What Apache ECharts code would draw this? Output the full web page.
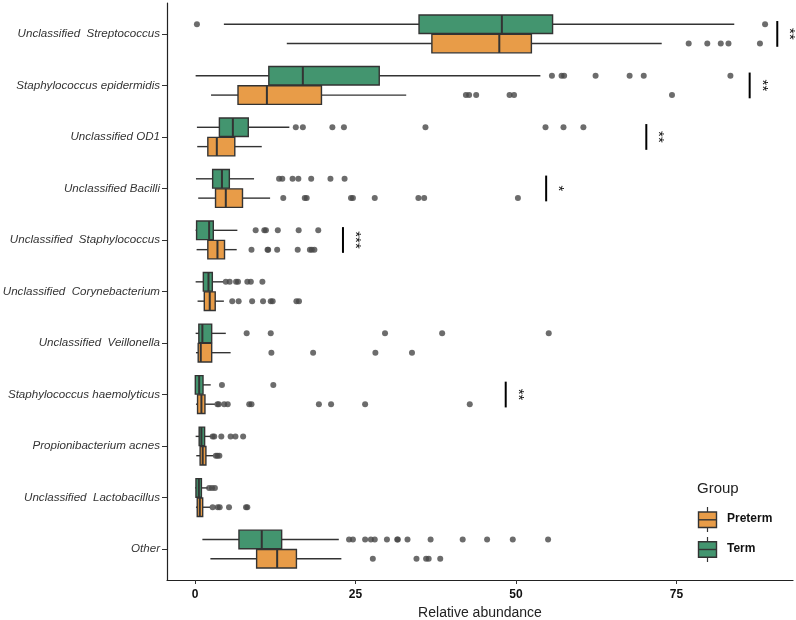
<!DOCTYPE html>
<html>
<head>
<meta charset="utf-8">
<script src="https://cdn.jsdelivr.net/npm/echarts@6/dist/echarts.min.js"></script>
<style>
html, body { margin: 0; padding: 0; background: #fff; }
#box { width: 796px; height: 620px; }
</style>
</head>
<body>
<div id="box"></div>
<script>
var taxa = [
    'Unclassified  Streptococcus',
    'Staphylococcus epidermidis',
    'Unclassified OD1',
    'Unclassified Bacilli',
    'Unclassified  Staphylococcus',
    'Unclassified  Corynebacterium',
    'Unclassified  Veillonella',
    'Staphylococcus haemolyticus',
    'Propionibacterium acnes',
    'Unclassified  Lactobacillus',
    'Other'
];
var xTicks = [0, 25, 50, 75];

// whisker low, q1, median, q3, whisker high
var termStats = [
    [4.5, 34.9, 47.8, 55.7, 84.0],
    [0.1, 11.5, 16.8, 28.7, 53.8],
    [0.3, 3.8, 5.9, 8.3, 14.7],
    [0.15, 2.75, 4.2, 5.35, 9.2],
    [0.1, 0.25, 2.2, 2.85, 6.6],
    [0.1, 1.3, 2.1, 2.7, 4.4],
    [0.1, 0.6, 1.15, 2.6, 4.8],
    [0.0, 0.05, 0.65, 1.25, 2.45],
    [0.1, 0.65, 1.0, 1.5, 2.45],
    [0.0, 0.15, 0.6, 1.0, 2.0],
    [1.15, 6.85, 10.4, 13.5, 22.4]
];
var pretermStats = [
    [14.3, 36.9, 47.4, 52.4, 72.7],
    [2.5, 6.7, 11.2, 19.7, 32.9],
    [0.35, 2.0, 3.4, 6.2, 10.4],
    [0.5, 3.2, 4.8, 7.4, 11.7],
    [0.25, 2.0, 3.5, 4.6, 6.5],
    [0.4, 1.45, 2.3, 3.15, 4.5],
    [0.15, 0.5, 0.9, 2.6, 5.55],
    [0.15, 0.4, 1.0, 1.55, 3.1],
    [0.2, 0.8, 1.2, 1.7, 2.85],
    [0.15, 0.35, 0.75, 1.2, 2.35],
    [2.4, 9.6, 12.8, 15.8, 22.8]
];
var termOutliers = [
    [0.3, 88.8],
    [55.6, 57.1, 57.5, 62.4, 67.7, 69.9, 83.4],
    [15.7, 16.8, 21.4, 23.2, 35.9, 54.6, 57.4, 60.5],
    [13.1, 13.6, 15.2, 16.1, 18.1, 21.1, 23.3],
    [9.45, 10.8, 11.05, 12.9, 16.15, 19.2],
    [4.8, 5.4, 6.4, 6.7, 8.15, 8.7, 10.5],
    [8.05, 11.8, 29.6, 38.5, 55.1],
    [4.2, 12.2],
    [2.75, 3.0, 4.1, 5.55, 6.3, 7.5],
    [2.2, 2.65, 3.1],
    [24.0, 24.6, 26.5, 27.4, 28.0, 29.9, 31.5, 31.6, 33.1, 36.7, 41.7, 45.5, 49.5, 55.0]
];
var pretermOutliers = [
    [76.9, 79.8, 81.9, 83.1, 88.0],
    [42.2, 42.7, 43.8, 49.0, 49.7, 74.3],
    [],
    [13.75, 17.1, 17.4, 24.3, 24.6, 28.0, 34.8, 35.7, 50.3],
    [8.8, 11.3, 11.4, 12.8, 16.0, 17.9, 18.2, 18.6],
    [5.8, 6.8, 8.9, 10.6, 11.8, 12.1, 15.8, 16.2],
    [11.9, 18.4, 28.1, 33.8],
    [3.5, 3.7, 4.55, 5.1, 8.45, 8.8, 19.3, 21.2, 26.5, 42.8],
    [3.25, 3.5, 3.8],
    [2.75, 3.55, 3.85, 5.3, 7.95, 8.15],
    [27.7, 34.5, 36.0, 36.4, 38.2]
];
// significance markers
var sigRows = [0, 1, 2, 3, 4, 7];
var sigX = [90.7, 86.4, 70.3, 54.7, 23.05, 48.4];
var sigStars = ['**', '**', '**', '*', '***', '**'];

var OFF = 0.1875;     // dodge offset of each group from the row centre
var BOX_H = 0.36;     // box thickness in row units
var termColor = '#43956f';
var pretermColor = '#e89c48';
var edge = '#333333';
var font = "'Liberation Sans', Arial, sans-serif";

function boxRows(stats) {
    return stats.map(function (s, i) { return [i].concat(s); });
}
function outlierPoints(list, shift) {
    var pts = [];
    list.forEach(function (vals, i) {
        vals.forEach(function (v) { pts.push([v, i + shift]); });
    });
    return pts;
}
function renderBox(shift) {
    return function (params, api) {
        var row = api.value(0) + shift;
        var lo = api.coord([api.value(1), row]);
        var q1 = api.coord([api.value(2), row]);
        var md = api.coord([api.value(3), row]);
        var q3 = api.coord([api.value(4), row]);
        var hi = api.coord([api.value(5), row]);
        var h = api.size([0, BOX_H])[1];
        var y = lo[1];
        var line = { stroke: edge, lineWidth: 1.4 };
        return {
            type: 'group',
            children: [
                { type: 'line', shape: { x1: lo[0], y1: y, x2: q1[0], y2: y }, style: line },
                { type: 'line', shape: { x1: q3[0], y1: y, x2: hi[0], y2: y }, style: line },
                { type: 'rect', shape: { x: q1[0], y: y - h / 2, width: q3[0] - q1[0], height: h },
                  style: { fill: api.visual('color'), stroke: edge, lineWidth: 1.4 } },
                { type: 'line', shape: { x1: md[0], y1: y - h / 2, x2: md[0], y2: y + h / 2 },
                  style: { stroke: edge, lineWidth: 2 } }
            ]
        };
    };
}

var sigData = sigRows.map(function (r, k) { return [sigX[k], r, sigStars[k]]; });
var rowIdx = taxa.map(function (t, i) { return i; });

var myChart = echarts.init(document.getElementById('box'));
myChart.setOption({
    animation: false,
    grid: { left: 167, right: 3, top: 3, bottom: 40, outerBoundsMode: 'none' },
    xAxis: {
        type: 'value',
        min: -4.36,
        max: 93.15,
        splitLine: { show: false },
        axisLine: { show: true, onZero: false, lineStyle: { color: '#222', width: 1.2 } },
        axisTick: { show: true, customValues: xTicks, length: 4, lineStyle: { color: '#333' } },
        axisLabel: { customValues: xTicks, margin: 9, fontSize: 12, fontWeight: 'bold',
                     color: '#111', fontFamily: font },
        name: 'Relative abundance',
        nameLocation: 'middle',
        nameGap: 26,
        nameTextStyle: { fontSize: 14, color: '#222', fontFamily: font }
    },
    yAxis: {
        type: 'value',
        min: -0.6,
        max: 10.6,
        inverse: true,
        splitLine: { show: false },
        axisLine: { show: true, onZero: false, lineStyle: { color: '#222', width: 1.2 } },
        axisTick: { show: true, customValues: rowIdx, length: 5, lineStyle: { color: '#333' } },
        axisLabel: {
            customValues: rowIdx,
            formatter: function (v) { return taxa[Math.round(v)]; },
            margin: 7, fontSize: 11.6, fontStyle: 'italic', color: '#333', fontFamily: font
        }
    },
    series: [
        {
            name: 'Term',
            type: 'custom',
            renderItem: renderBox(-OFF),
            itemStyle: { color: termColor },
            encode: { x: [1, 2, 3, 4, 5], y: 0 },
            data: boxRows(termStats)
        },
        {
            name: 'Preterm',
            type: 'custom',
            renderItem: renderBox(OFF),
            itemStyle: { color: pretermColor },
            encode: { x: [1, 2, 3, 4, 5], y: 0 },
            data: boxRows(pretermStats)
        },
        {
            type: 'scatter',
            symbolSize: 6,
            itemStyle: { color: '#474747', opacity: 0.8 },
            data: outlierPoints(termOutliers, -OFF).concat(outlierPoints(pretermOutliers, OFF))
        },
        {
            type: 'custom',
            encode: { x: 0, y: 1 },
            renderItem: function (params, api) {
                var top = api.coord([api.value(0), api.value(1) - 0.25]);
                var bot = api.coord([api.value(0), api.value(1) + 0.25]);
                var mid = api.coord([api.value(0), api.value(1)]);
                return {
                    type: 'group',
                    children: [
                        { type: 'line', shape: { x1: top[0], y1: top[1], x2: bot[0], y2: bot[1] },
                          style: { stroke: '#000', lineWidth: 2 } },
                        { type: 'text', x: mid[0] + 12, y: mid[1], rotation: -Math.PI / 2,
                          style: { text: sigStars[params.dataIndex], fontSize: 15, fill: '#111',
                                   align: 'center', verticalAlign: 'middle', fontFamily: font } }
                    ]
                };
            },
            data: sigData
        }
    ],
    graphic: [
        { type: 'text', left: 697, top: 481,
          style: { text: 'Group', fontSize: 15, fill: '#222', fontFamily: font } },
        { type: 'line', shape: { x1: 707.5, y1: 507, x2: 707.5, y2: 532 }, style: { stroke: edge, lineWidth: 1.2 } },
        { type: 'rect', shape: { x: 698.5, y: 512, width: 18, height: 15.5 },
          style: { fill: pretermColor, stroke: edge, lineWidth: 1.4 } },
        { type: 'line', shape: { x1: 698.5, y1: 519.8, x2: 716.5, y2: 519.8 }, style: { stroke: edge, lineWidth: 1.4 } },
        { type: 'text', left: 727, top: 513,
          style: { text: 'Preterm', fontSize: 12, fontWeight: 'bold', fill: '#111', fontFamily: font } },
        { type: 'line', shape: { x1: 707.5, y1: 537, x2: 707.5, y2: 562 }, style: { stroke: edge, lineWidth: 1.2 } },
        { type: 'rect', shape: { x: 698.5, y: 541.8, width: 18, height: 15.5 },
          style: { fill: termColor, stroke: edge, lineWidth: 1.4 } },
        { type: 'line', shape: { x1: 698.5, y1: 549.5, x2: 716.5, y2: 549.5 }, style: { stroke: edge, lineWidth: 1.4 } },
        { type: 'text', left: 727, top: 543,
          style: { text: 'Term', fontSize: 12, fontWeight: 'bold', fill: '#111', fontFamily: font } }
    ]
});
</script>
</body>
</html>
